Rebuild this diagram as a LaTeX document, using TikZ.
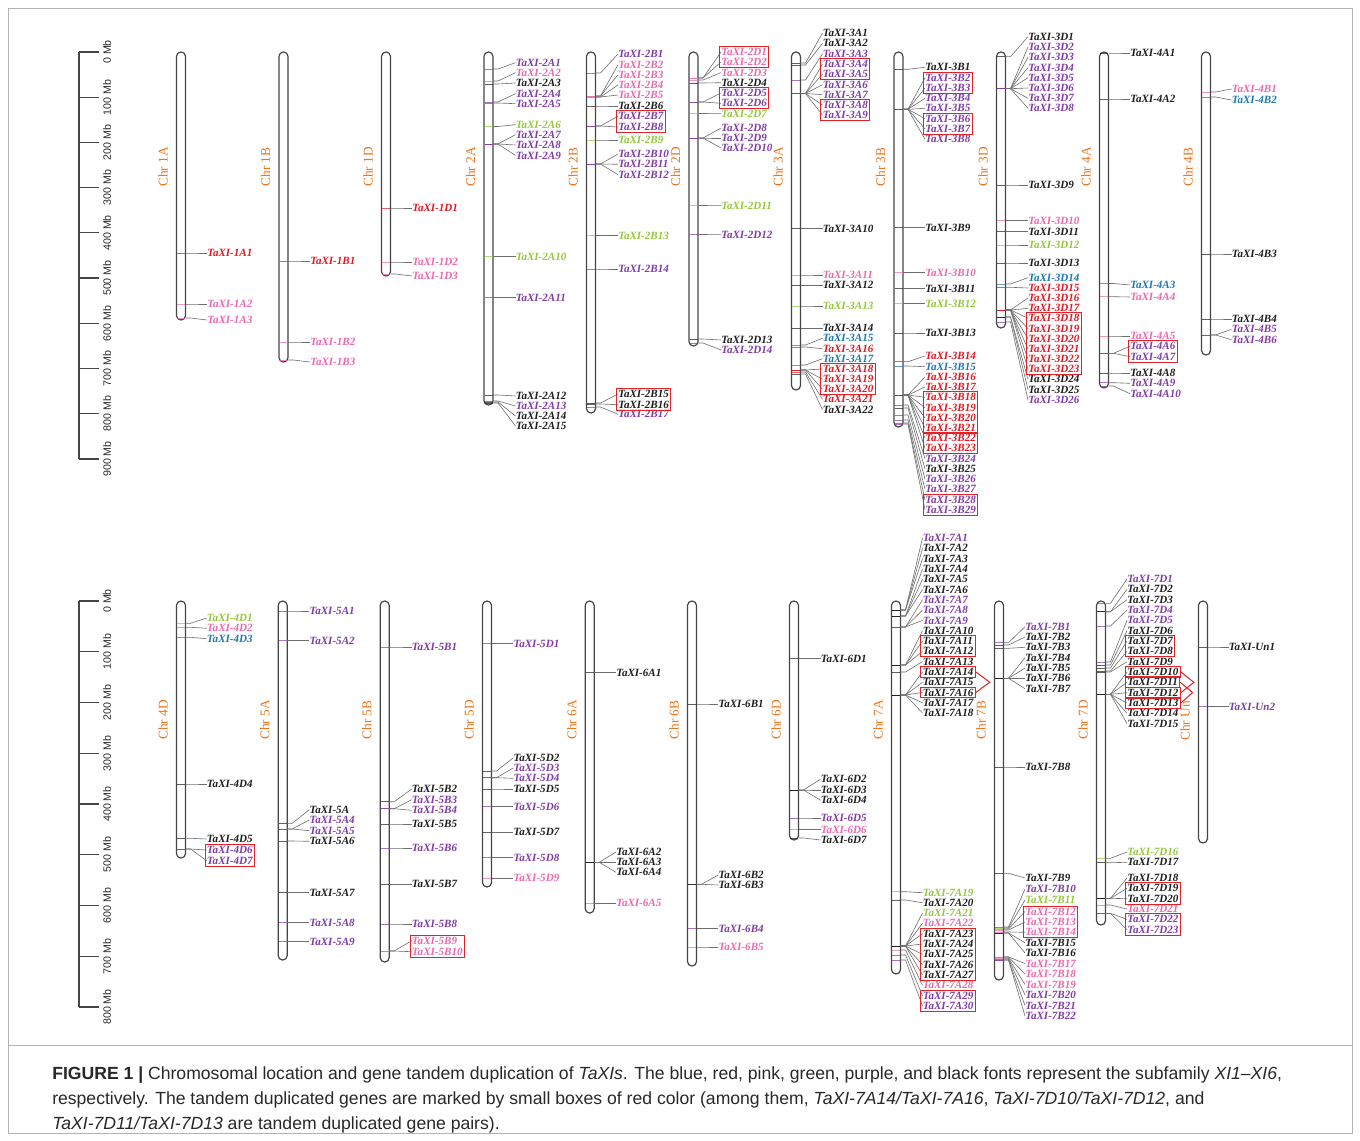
\documentclass[tikz,border=0pt]{standalone}
\usepackage{fontspec}
\setmainfont{Liberation Serif}
\newfontfamily\sansf{Liberation Sans}
\usetikzlibrary{fit,calc}
\definecolor{pu}{RGB}{130,60,165}
\definecolor{pk}{RGB}{235,105,175}
\definecolor{rd}{RGB}{225,25,35}
\definecolor{gr}{RGB}{150,200,60}
\definecolor{bl}{RGB}{30,120,180}
\definecolor{bk}{RGB}{30,30,30}
\definecolor{orc}{RGB}{235,115,25}
\definecolor{cg}{RGB}{110,110,110}
\definecolor{chrc}{RGB}{70,70,70}
\definecolor{boxr}{RGB}{225,35,40}
\definecolor{capc}{RGB}{40,40,40}
\tikzset{
 gl/.style={font=\fontsize{8.3}{8.3}\selectfont\bfseries\itshape, inner sep=0pt, anchor=west},
 conn/.style={draw=cg, line width=0.45pt},
 mk/.style={line width=0.6pt, opacity=0.7},
 chrbody/.style={draw=chrc, line width=0.9pt, fill=white, rounded corners=3.3pt},
 chrlab/.style={font=\fontsize{10}{10}\selectfont, text=orc, rotate=90, inner sep=0pt},
 bx/.style={draw=boxr, line width=0.75pt, inner xsep=1.2pt, inner ysep=1pt},
 brk/.style={draw=boxr, line width=0.75pt},
 scl/.style={draw=chrc, line width=0.9pt},
 sclab/.style={font=\sansf\fontsize{8}{8}\selectfont, text=capc, rotate=90, inner sep=0pt},
 capt/.style={font=\sansf\fontsize{13.2}{13.2}\selectfont, text=capc, inner sep=0pt, anchor=base west},
 frame/.style={draw=black!30, line width=0.6pt}
}
\newcommand\chrom[6]{%
 \def\cx{#1}\def\lx{#6}%
 \draw[chrbody] (#1-4.5,#2) rectangle (#1+4.5,#3);
 \node[chrlab] (chr#4) at (#1-18,#5) {Chr #4};
}
\newcommand\gn[4]{%
 \draw[mk,#1] (\cx-4,#2) -- (\cx+4,#2);
 \node[gl,text=#1] (#4) at (\lx,#3) {#4};
 \draw[conn] (\cx+4.5,#2) -- (\cx+9.5,#2) -- (#4.west);
}
\newcommand\bxx[2]{\node[bx, fit=#2] (#1) {};}
\begin{document}
\begin{tikzpicture}[x=0.75pt,y=-0.75pt]
\useasboundingbox (0,0) rectangle (1360,1141);
\fill[white] (0,0) rectangle (1360,1141);
\draw[frame] (8,8) rectangle (1352,1133);
\draw[frame] (8,1045) -- (1352,1045);
% scale bars
\draw[scl] (79,52) -- (79,459);
\foreach \i in {0,...,9}{
 \draw[scl] (79,52+\i*45.22) -- (99,52+\i*45.22);
 \node[sclab] (sa\i) at (107,52+\i*45.22) {\ifnum\i=0 0\else\i00\fi\ Mb};
}
\draw[scl] (79,601) -- (79,1007);
\foreach \i in {0,...,8}{
 \draw[scl] (79,601+\i*50.75) -- (99,601+\i*50.75);
 \node[sclab] (sb\i) at (107,601+\i*50.75) {\ifnum\i=0 0\else\i00\fi\ Mb};
}
% ---------------- top panel
\chrom{181}{52}{320}{1A}{167}{207}
\gn{rd}{253}{253}{TaXI-1A1}
\gn{pk}{304}{304}{TaXI-1A2}
\gn{pk}{318}{320}{TaXI-1A3}
\chrom{283.5}{52}{362}{1B}{167}{310}
\gn{rd}{261}{261}{TaXI-1B1}
\gn{pk}{342}{342}{TaXI-1B2}
\gn{pk}{360}{362}{TaXI-1B3}
\chrom{386}{52}{276}{1D}{167}{412}
\gn{rd}{208}{208}{TaXI-1D1}
\gn{pk}{262}{262}{TaXI-1D2}
\gn{pk}{274}{276}{TaXI-1D3}
\chrom{488.5}{52}{405}{2A}{167}{515.5}
\gn{pu}{69}{62.7}{TaXI-2A1}
\gn{pk}{81}{72.7}{TaXI-2A2}
\gn{bk}{84}{83}{TaXI-2A3}
\gn{pu}{102}{93.7}{TaXI-2A4}
\gn{pu}{103}{103.7}{TaXI-2A5}
\gn{gr}{126.5}{124.7}{TaXI-2A6}
\gn{pu}{144}{134.7}{TaXI-2A7}
\gn{pu}{144}{145}{TaXI-2A8}
\gn{pu}{144}{155.5}{TaXI-2A9}
\gn{gr}{256.7}{256.7}{TaXI-2A10}
\gn{pu}{297.7}{297.7}{TaXI-2A11}
\gn{bk}{395}{396}{TaXI-2A12}
\gn{pu}{401}{406}{TaXI-2A13}
\gn{bk}{402}{416}{TaXI-2A14}
\gn{bk}{403}{426}{TaXI-2A15}
\chrom{591}{52}{413}{2B}{167}{618}
\gn{pu}{73}{54}{TaXI-2B1}
\gn{pk}{96}{64.7}{TaXI-2B2}
\gn{pk}{96}{74.7}{TaXI-2B3}
\gn{pk}{97}{85}{TaXI-2B4}
\gn{pk}{97}{95}{TaXI-2B5}
\gn{bk}{106}{106}{TaXI-2B6}
\gn{pu}{126}{116.3}{TaXI-2B7}
\gn{pu}{126}{127}{TaXI-2B8}
\gn{gr}{140}{140}{TaXI-2B9}
\gn{pu}{164}{154}{TaXI-2B10}
\gn{pu}{164}{164.3}{TaXI-2B11}
\gn{pu}{164}{174.7}{TaXI-2B12}
\gn{gr}{235.7}{235.7}{TaXI-2B13}
\gn{pu}{269}{269}{TaXI-2B14}
\gn{bk}{403}{394}{TaXI-2B15}
\gn{bk}{404}{404.7}{TaXI-2B16}
\gn{pu}{407}{414.3}{TaXI-2B17}
\bxx{b2B7}{(TaXI-2B7)(TaXI-2B8)}
\bxx{b2B15}{(TaXI-2B15)(TaXI-2B16)}
\chrom{693.5}{52}{346}{2D}{167}{721}
\gn{pk}{78}{52}{TaXI-2D1}
\gn{pk}{78}{62}{TaXI-2D2}
\gn{pk}{80}{72.7}{TaXI-2D3}
\gn{bk}{83}{82.7}{TaXI-2D4}
\gn{pu}{102}{93}{TaXI-2D5}
\gn{pu}{102}{103.3}{TaXI-2D6}
\gn{gr}{113.5}{113.7}{TaXI-2D7}
\gn{pu}{138}{128}{TaXI-2D8}
\gn{pu}{138}{138}{TaXI-2D9}
\gn{pu}{138}{148}{TaXI-2D10}
\gn{gr}{205.5}{205.7}{TaXI-2D11}
\gn{pu}{234.5}{234.7}{TaXI-2D12}
\gn{bk}{339}{340}{TaXI-2D13}
\gn{pu}{343}{350}{TaXI-2D14}
\bxx{b2D1}{(TaXI-2D1)(TaXI-2D2)}
\bxx{b2D5}{(TaXI-2D5)(TaXI-2D6)}
\chrom{796}{52}{390}{3A}{167}{822.5}
\gn{bk}{63}{33}{TaXI-3A1}
\gn{bk}{65}{43.3}{TaXI-3A2}
\gn{pu}{80}{53.7}{TaXI-3A3}
\gn{pu}{93.5}{64}{TaXI-3A4}
\gn{pu}{93.5}{74}{TaXI-3A5}
\gn{pu}{93.5}{84.7}{TaXI-3A6}
\gn{pu}{93.5}{94.7}{TaXI-3A7}
\gn{pu}{93.5}{105}{TaXI-3A8}
\gn{pu}{93.5}{115}{TaXI-3A9}
\gn{bk}{228.5}{228.5}{TaXI-3A10}
\gn{pk}{275}{275}{TaXI-3A11}
\gn{bk}{285.3}{285.3}{TaXI-3A12}
\gn{gr}{306}{306}{TaXI-3A13}
\gn{bk}{328.3}{328.3}{TaXI-3A14}
\gn{bl}{345}{338.3}{TaXI-3A15}
\gn{rd}{347}{348.7}{TaXI-3A16}
\gn{bl}{365}{358.7}{TaXI-3A17}
\gn{rd}{370}{369}{TaXI-3A18}
\gn{rd}{370}{379.3}{TaXI-3A19}
\gn{rd}{370}{389.3}{TaXI-3A20}
\gn{rd}{372}{399.3}{TaXI-3A21}
\gn{bk}{374}{409.7}{TaXI-3A22}
\bxx{b3A4}{(TaXI-3A4)(TaXI-3A5)}
\bxx{b3A8}{(TaXI-3A8)(TaXI-3A9)}
\bxx{b3A18}{(TaXI-3A18)(TaXI-3A20)}
\chrom{898.5}{52}{427}{3B}{167}{925}
\gn{bk}{69.3}{67.3}{TaXI-3B1}
\gn{pu}{109.3}{77.7}{TaXI-3B2}
\gn{pu}{109.3}{88}{TaXI-3B3}
\gn{pu}{109.3}{98.3}{TaXI-3B4}
\gn{pu}{109.3}{108.3}{TaXI-3B5}
\gn{pu}{109.3}{118.7}{TaXI-3B6}
\gn{pu}{109.3}{129}{TaXI-3B7}
\gn{pu}{109.3}{139.3}{TaXI-3B8}
\gn{bk}{227.7}{227.7}{TaXI-3B9}
\gn{pk}{272.7}{272.7}{TaXI-3B10}
\gn{bk}{288.7}{288.7}{TaXI-3B11}
\gn{gr}{303.7}{303.7}{TaXI-3B12}
\gn{bk}{333}{333}{TaXI-3B13}
\gn{rd}{361.7}{356}{TaXI-3B14}
\gn{bl}{366}{366.7}{TaXI-3B15}
\gn{rd}{395}{377}{TaXI-3B16}
\gn{rd}{395}{387}{TaXI-3B17}
\gn{rd}{395}{397.3}{TaXI-3B18}
\gn{rd}{395}{407.7}{TaXI-3B19}
\gn{rd}{395}{418}{TaXI-3B20}
\gn{rd}{395}{428}{TaXI-3B21}
\gn{rd}{395}{438.3}{TaXI-3B22}
\gn{rd}{395}{448.3}{TaXI-3B23}
\gn{pu}{405}{458.7}{TaXI-3B24}
\gn{bk}{408}{469}{TaXI-3B25}
\gn{pu}{415}{479.3}{TaXI-3B26}
\gn{pu}{420}{489.3}{TaXI-3B27}
\gn{pu}{423}{499.7}{TaXI-3B28}
\gn{pu}{424}{510}{TaXI-3B29}
\bxx{b3B2}{(TaXI-3B2)(TaXI-3B3)}
\bxx{b3B6}{(TaXI-3B6)(TaXI-3B7)}
\bxx{b3B18}{(TaXI-3B18)(TaXI-3B21)}
\bxx{b3B22}{(TaXI-3B22)(TaXI-3B23)}
\bxx{b3B28}{(TaXI-3B28)(TaXI-3B29)}
\chrom{1001}{52}{328}{3D}{167}{1028}
\gn{bk}{56.7}{36.7}{TaXI-3D1}
\gn{pu}{88.7}{47}{TaXI-3D2}
\gn{pu}{88.7}{57.3}{TaXI-3D3}
\gn{pu}{88.7}{67.7}{TaXI-3D4}
\gn{pu}{88.7}{77.7}{TaXI-3D5}
\gn{pu}{88.7}{88}{TaXI-3D6}
\gn{pu}{88.7}{98.3}{TaXI-3D7}
\gn{pu}{88.7}{108.3}{TaXI-3D8}
\gn{bk}{185}{185}{TaXI-3D9}
\gn{pk}{220.7}{220.7}{TaXI-3D10}
\gn{bk}{231.7}{231.7}{TaXI-3D11}
\gn{gr}{245}{245}{TaXI-3D12}
\gn{bk}{263}{263}{TaXI-3D13}
\gn{bl}{284}{277.7}{TaXI-3D14}
\gn{rd}{287.3}{288}{TaXI-3D15}
\gn{rd}{310}{298}{TaXI-3D16}
\gn{rd}{310}{308.3}{TaXI-3D17}
\gn{rd}{310}{318.3}{TaXI-3D18}
\gn{rd}{310}{328.7}{TaXI-3D19}
\gn{rd}{310}{338.7}{TaXI-3D20}
\gn{rd}{310}{349}{TaXI-3D21}
\gn{rd}{310}{359}{TaXI-3D22}
\gn{rd}{310}{369.3}{TaXI-3D23}
\gn{bk}{317}{379.3}{TaXI-3D24}
\gn{bk}{317}{389.7}{TaXI-3D25}
\gn{pu}{322}{400}{TaXI-3D26}
\bxx{b3D18}{(TaXI-3D18)(TaXI-3D23)}
\chrom{1104}{52}{388}{4A}{167}{1130}
\gn{bk}{53}{53}{TaXI-4A1}
\gn{bk}{99}{99}{TaXI-4A2}
\gn{bl}{283.5}{285}{TaXI-4A3}
\gn{pk}{296.7}{297}{TaXI-4A4}
\gn{pk}{336}{336}{TaXI-4A5}
\gn{pu}{353.3}{346.3}{TaXI-4A6}
\gn{pu}{353.3}{356.7}{TaXI-4A7}
\gn{bk}{373}{373}{TaXI-4A8}
\gn{pu}{382.7}{383.3}{TaXI-4A9}
\gn{pu}{386}{393.7}{TaXI-4A10}
\bxx{b4A6}{(TaXI-4A6)(TaXI-4A7)}
\chrom{1206}{52}{355}{4B}{167}{1231.5}
\gn{pk}{92}{89}{TaXI-4B1}
\gn{bl}{97}{100}{TaXI-4B2}
\gn{bk}{254}{254}{TaXI-4B3}
\gn{bk}{319}{319}{TaXI-4B4}
\gn{pu}{335}{329.3}{TaXI-4B5}
\gn{pu}{335}{339.7}{TaXI-4B6}
% ---------------- bottom panel
\chrom{181}{601}{858}{4D}{720}{206.7}
\gn{gr}{623.3}{618}{TaXI-4D1}
\gn{pk}{627.3}{628.3}{TaXI-4D2}
\gn{bl}{637.3}{638.7}{TaXI-4D3}
\gn{bk}{784}{784}{TaXI-4D4}
\gn{bk}{838.3}{839}{TaXI-4D5}
\gn{pu}{849}{850}{TaXI-4D6}
\gn{pu}{849}{860.7}{TaXI-4D7}
\bxx{b4D6}{(TaXI-4D6)(TaXI-4D7)}
\chrom{282.7}{601}{960}{5A}{720}{309.3}
\gn{pu}{611}{611}{TaXI-5A1}
\gn{pu}{640.7}{640.7}{TaXI-5A2}
\gn{bk}{823.3}{809.7}{TaXI-5A}
\gn{pu}{829}{820}{TaXI-5A4}
\gn{pu}{829}{830.7}{TaXI-5A5}
\gn{bk}{841}{841.3}{TaXI-5A6}
\gn{bk}{892.7}{892.7}{TaXI-5A7}
\gn{pu}{922.7}{922.7}{TaXI-5A8}
\gn{pu}{941.7}{941.7}{TaXI-5A9}
\chrom{384.7}{601}{962}{5B}{720}{411.7}
\gn{pu}{647}{647}{TaXI-5B1}
\gn{bk}{801.7}{789}{TaXI-5B2}
\gn{pu}{808.7}{799.7}{TaXI-5B3}
\gn{pu}{808.7}{810.3}{TaXI-5B4}
\gn{bk}{824}{824}{TaXI-5B5}
\gn{pu}{848}{848}{TaXI-5B6}
\gn{bk}{884.3}{884.3}{TaXI-5B7}
\gn{pu}{924}{924}{TaXI-5B8}
\gn{pk}{951}{940.7}{TaXI-5B9}
\gn{pk}{951}{951.7}{TaXI-5B10}
\bxx{b5B9}{(TaXI-5B9)(TaXI-5B10)}
\chrom{487}{601}{887}{5D}{720}{513.3}
\gn{pu}{643.7}{643.7}{TaXI-5D1}
\gn{bk}{771}{757.7}{TaXI-5D2}
\gn{pu}{777.7}{768}{TaXI-5D3}
\gn{pu}{777.7}{778.3}{TaXI-5D4}
\gn{bk}{789}{789}{TaXI-5D5}
\gn{pu}{806.7}{806.7}{TaXI-5D6}
\gn{bk}{832.3}{832.3}{TaXI-5D7}
\gn{pu}{857.7}{857.7}{TaXI-5D8}
\gn{pk}{878.3}{878.3}{TaXI-5D9}
\chrom{589.7}{601}{913}{6A}{720}{616}
\gn{bk}{672.7}{672.7}{TaXI-6A1}
\gn{bk}{862.3}{852}{TaXI-6A2}
\gn{bk}{862.3}{862.3}{TaXI-6A3}
\gn{bk}{862.3}{872.3}{TaXI-6A4}
\gn{pk}{903.3}{903.3}{TaXI-6A5}
\chrom{692}{601}{966}{6B}{720}{718.3}
\gn{bk}{704}{704}{TaXI-6B1}
\gn{bk}{884.3}{875}{TaXI-6B2}
\gn{bk}{884.3}{885}{TaXI-6B3}
\gn{pu}{928.7}{928.7}{TaXI-6B4}
\gn{pk}{947}{947}{TaXI-6B5}
\chrom{794}{601}{840}{6D}{720}{820.7}
\gn{bk}{658.7}{658.7}{TaXI-6D1}
\gn{bk}{790}{779}{TaXI-6D2}
\gn{bk}{790}{790}{TaXI-6D3}
\gn{bk}{790}{800.3}{TaXI-6D4}
\gn{pu}{818}{818}{TaXI-6D5}
\gn{pk}{829.7}{829.7}{TaXI-6D6}
\gn{bk}{838}{840}{TaXI-6D7}
\chrom{896}{601}{974}{7A}{720}{922.5}
\gn{pu}{610}{538}{TaXI-7A1}
\gn{bk}{610}{548.3}{TaXI-7A2}
\gn{bk}{610}{558.6}{TaXI-7A3}
\gn{bk}{616}{568.9}{TaXI-7A4}
\gn{bk}{616}{579.2}{TaXI-7A5}
\gn{bk}{616}{589.5}{TaXI-7A6}
\gn{pu}{627}{599.8}{TaXI-7A7}
\gn{pu}{627}{610.1}{TaXI-7A8}
\gn{pu}{627}{620.4}{TaXI-7A9}
\gn{bk}{665}{630.7}{TaXI-7A10}
\gn{bk}{665}{641}{TaXI-7A11}
\gn{bk}{665}{651.3}{TaXI-7A12}
\gn{bk}{672}{661.6}{TaXI-7A13}
\gn{bk}{695}{671.9}{TaXI-7A14}
\gn{bk}{695}{682.2}{TaXI-7A15}
\gn{bk}{695}{692.5}{TaXI-7A16}
\gn{bk}{695}{702.8}{TaXI-7A17}
\gn{bk}{695}{713.1}{TaXI-7A18}
\gn{gr}{891.7}{892.7}{TaXI-7A19}
\gn{bk}{900}{902.7}{TaXI-7A20}
\gn{gr}{946}{913}{TaXI-7A21}
\gn{pk}{946}{923.3}{TaXI-7A22}
\gn{bk}{946}{933.7}{TaXI-7A23}
\gn{bk}{946}{944}{TaXI-7A24}
\gn{bk}{946}{954.3}{TaXI-7A25}
\gn{bk}{946}{964.7}{TaXI-7A26}
\gn{bk}{946}{975}{TaXI-7A27}
\gn{pk}{950}{985.3}{TaXI-7A28}
\gn{pu}{955}{995.7}{TaXI-7A29}
\gn{pu}{960}{1006}{TaXI-7A30}
\bxx{b7A11}{(TaXI-7A11)(TaXI-7A12)}
\bxx{b7A14}{(TaXI-7A14)}
\bxx{b7A16}{(TaXI-7A16)}
\bxx{b7A23}{(TaXI-7A23)(TaXI-7A27)}
\bxx{b7A29}{(TaXI-7A29)(TaXI-7A30)}
\draw[brk] (b7A14.east) -- ($(b7A14.east)!0.5!(b7A16.east)+(14,0)$) -- (b7A16.east);
\chrom{999}{601}{980}{7B}{720}{1025}
\gn{pu}{642.7}{626.7}{TaXI-7B1}
\gn{bk}{645}{637}{TaXI-7B2}
\gn{bk}{648.3}{647.3}{TaXI-7B3}
\gn{bk}{678.3}{657.7}{TaXI-7B4}
\gn{bk}{678.3}{668}{TaXI-7B5}
\gn{bk}{678.3}{678.3}{TaXI-7B6}
\gn{bk}{678.3}{688.7}{TaXI-7B7}
\gn{bk}{767}{767}{TaXI-7B8}
\gn{bk}{873.3}{878}{TaXI-7B9}
\gn{pu}{927}{889}{TaXI-7B10}
\gn{gr}{928}{900}{TaXI-7B11}
\gn{pk}{929}{911.5}{TaXI-7B12}
\gn{pk}{930}{922}{TaXI-7B13}
\gn{pk}{932}{932.3}{TaXI-7B14}
\gn{bk}{933}{942.7}{TaXI-7B15}
\gn{bk}{933}{953}{TaXI-7B16}
\gn{pk}{957}{963.5}{TaXI-7B17}
\gn{pk}{957}{974}{TaXI-7B18}
\gn{pk}{958}{984.5}{TaXI-7B19}
\gn{pu}{959}{995}{TaXI-7B20}
\gn{pu}{960}{1005.5}{TaXI-7B21}
\gn{pu}{960}{1016}{TaXI-7B22}
\bxx{b7B12}{(TaXI-7B12)(TaXI-7B14)}
\chrom{1101}{601}{925}{7D}{720}{1127}
\gn{pu}{603.3}{579}{TaXI-7D1}
\gn{bk}{611.7}{589.3}{TaXI-7D2}
\gn{bk}{611.7}{599.7}{TaXI-7D3}
\gn{pu}{626}{610}{TaXI-7D4}
\gn{pu}{662}{620.3}{TaXI-7D5}
\gn{bk}{665}{630.7}{TaXI-7D6}
\gn{bk}{668}{641}{TaXI-7D7}
\gn{bk}{671}{651.3}{TaXI-7D8}
\gn{bk}{672}{661.7}{TaXI-7D9}
\gn{bk}{694.3}{672}{TaXI-7D10}
\gn{bk}{694.3}{682.3}{TaXI-7D11}
\gn{bk}{694.3}{692.7}{TaXI-7D12}
\gn{bk}{694.3}{703}{TaXI-7D13}
\gn{bk}{694.3}{713.3}{TaXI-7D14}
\gn{bk}{694.3}{723.7}{TaXI-7D15}
\gn{gr}{858.3}{852}{TaXI-7D16}
\gn{bk}{862.7}{862.3}{TaXI-7D17}
\gn{bk}{898.3}{878}{TaXI-7D18}
\gn{bk}{898.3}{888.3}{TaXI-7D19}
\gn{bk}{898.3}{898.7}{TaXI-7D20}
\gn{pk}{905}{909}{TaXI-7D21}
\gn{pu}{913.3}{919.3}{TaXI-7D22}
\gn{pu}{913.3}{929.7}{TaXI-7D23}
\bxx{b7D7}{(TaXI-7D7)(TaXI-7D8)}
\bxx{b7D10}{(TaXI-7D10)}
\bxx{b7D11}{(TaXI-7D11)}
\bxx{b7D12}{(TaXI-7D12)}
\bxx{b7D13}{(TaXI-7D13)}
\bxx{b7D19}{(TaXI-7D19)(TaXI-7D20)}
\bxx{b7D22}{(TaXI-7D22)(TaXI-7D23)}
\draw[brk] (b7D10.east) -- ($(b7D10.east)!0.5!(b7D12.east)+(13,0)$) -- (b7D12.east);
\draw[brk] (b7D11.east) -- ($(b7D11.east)!0.5!(b7D13.east)+(12,0)$) -- (b7D13.east);
\chrom{1203}{601}{843}{Un}{721}{1228.5}
\gn{bk}{647}{647}{TaXI-Un1}
\gn{pu}{706.7}{706.7}{TaXI-Un2}
% ---------------- caption
\node[capt] (cap1) at (52,1079) {\textbf{FIGURE 1 |} Chromosomal location and gene tandem duplication of \textit{TaXIs}. The blue, red, pink, green, purple, and black fonts represent the subfamily \textit{XI1–XI6},};
\node[capt] (cap2) at (52,1104) {respectively. The tandem duplicated genes are marked by small boxes of red color (among them, \textit{TaXI-7A14/TaXI-7A16}, \textit{TaXI-7D10/TaXI-7D12}, and};
\node[capt] (cap3) at (52,1129) {\textit{TaXI-7D11/TaXI-7D13} are tandem duplicated gene pairs).};
\end{tikzpicture}
\end{document}
